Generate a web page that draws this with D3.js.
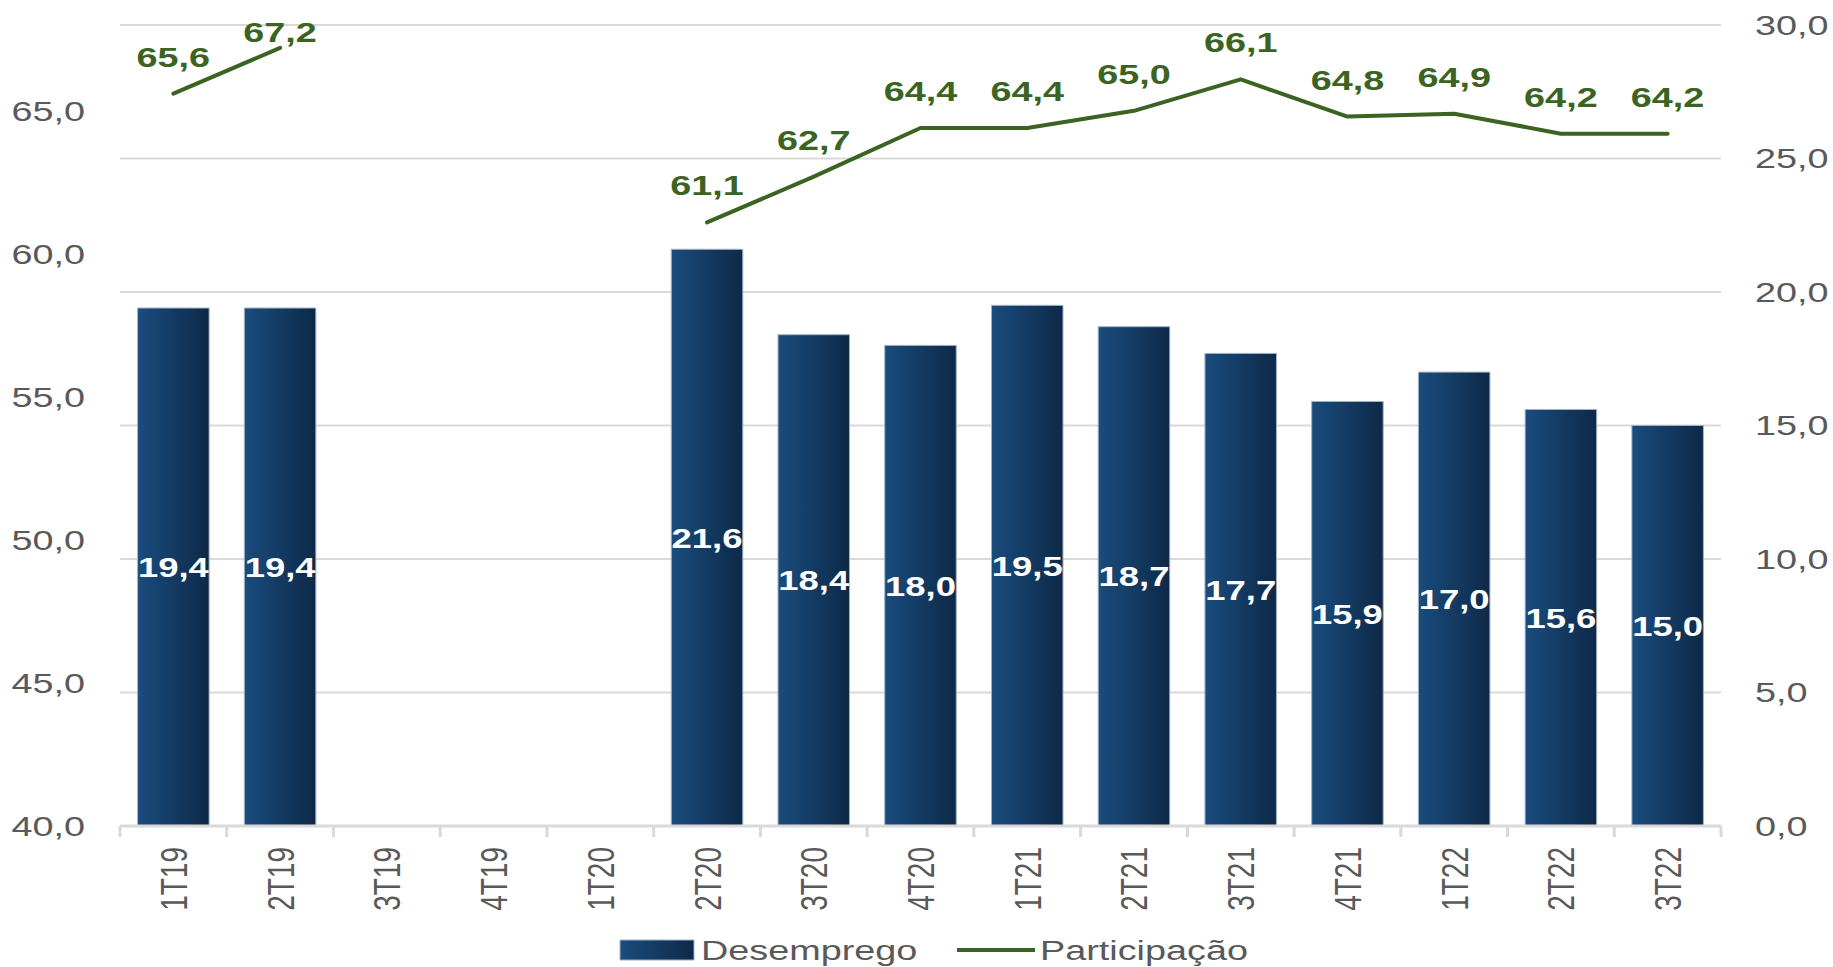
<!DOCTYPE html>
<html>
<head>
<meta charset="utf-8">
<script src="https://cdn.jsdelivr.net/npm/d3@7"></script>
<style>
  html, body { margin: 0; padding: 0; background: #fff; }
  svg { display: block; }
  text { font-family: "Liberation Sans", Arial, sans-serif; }
</style>
</head>
<body>
<div id="chart"></div>
<script>
// dados
const categories = ['1T19', '2T19', '3T19', '4T19', '1T20', '2T20', '3T20', '4T20', '1T21', '2T21', '3T21', '4T21', '1T22', '2T22', '3T22']
const desemprego = [19.4, 19.4, null, null, null, 21.6, 18.4, 18.0, 19.5, 18.7, 17.7, 15.9, 17.0, 15.6, 15.0]
const participacao = [65.6, 67.2, null, null, null, 61.1, 62.7, 64.4, 64.4, 65.0, 66.1, 64.8, 64.9, 64.2, 64.2]
const leftTicks = [40, 45, 50, 55, 60, 65]
const rightTicks = [0, 5, 10, 15, 20, 25, 30]

// the picture is stretched sideways, so draw in a narrower box and let the viewBox stretch it
const stretch = 1.35
const width = 1833
const height = 967
const vw = width / stretch

const margin = { left: 120 / stretch, right: vw - 1721 / stretch, top: 25, bottom: height - 826 }
const fmt = v => d3.format('.1f')(v).replace('.', ',')

const svg = d3.select('#chart')
  .append('svg')
  .attr('width', width)
  .attr('height', height)
  .attr('viewBox', `0 0 ${vw} ${height}`)
  .attr('preserveAspectRatio', 'none')

const defs = svg.append('defs')
const grad = defs.append('linearGradient')
  .attr('id', 'barGrad')
  .attr('x1', '0%').attr('x2', '100%')
  .attr('y1', '0%').attr('y2', '0%')
grad.append('stop').attr('offset', '0%').attr('stop-color', '#1a4c7d')
grad.append('stop').attr('offset', '100%').attr('stop-color', '#0d2948')

const x = d3.scaleBand()
  .domain(categories)
  .range([margin.left, vw - margin.right])
  .paddingInner(0.33)
  .paddingOuter(0.165)

const yR = d3.scaleLinear()
  .domain([0, 30])
  .range([height - margin.bottom, margin.top])

const yL = d3.scaleLinear()
  .domain([40, 68])
  .range([height - margin.bottom, margin.top])

// gridlines (from right axis)
svg.append('g')
  .selectAll('line')
  .data(rightTicks.filter(d => d > 0))
  .enter()
  .append('line')
  .attr('x1', margin.left)
  .attr('x2', vw - margin.right)
  .attr('y1', d => yR(d))
  .attr('y2', d => yR(d))
  .attr('stroke', '#d9d9d9')
  .attr('stroke-width', 2)
  .attr('vector-effect', 'non-scaling-stroke')

// bars
const barData = categories.map((c, i) => ({ cat: c, v: desemprego[i] })).filter(d => d.v !== null)
svg.append('g')
  .selectAll('rect')
  .data(barData)
  .enter()
  .append('rect')
  .attr('x', d => x(d.cat))
  .attr('width', x.bandwidth())
  .attr('y', d => yR(d.v))
  .attr('height', d => yR(0) - yR(d.v))
  .style('fill', 'url(#barGrad)')
  .style('stroke', '#9fb2c6')
  .style('stroke-width', 1)
  .attr('vector-effect', 'non-scaling-stroke')

// bar labels
svg.append('g')
  .selectAll('text')
  .data(barData)
  .enter()
  .append('text')
  .attr('x', d => x(d.cat) + x.bandwidth() / 2)
  .attr('y', d => (yR(d.v) + yR(0)) / 2 + 10)
  .attr('text-anchor', 'middle')
  .style('font-size', '27px')
  .style('font-weight', 'bold')
  .style('fill', '#fff')
  .text(d => fmt(d.v))

// bottom axis line and ticks
const axisY = yR(0)
svg.append('line')
  .attr('x1', margin.left)
  .attr('x2', vw - margin.right)
  .attr('y1', axisY)
  .attr('y2', axisY)
  .attr('stroke', '#d9d9d9')
  .attr('stroke-width', 3)
  .attr('vector-effect', 'non-scaling-stroke')

const step = x.step()
const bounds = d3.range(categories.length + 1).map(i => margin.left + i * step)
svg.append('g')
  .selectAll('line')
  .data(bounds)
  .enter()
  .append('line')
  .attr('x1', d => d)
  .attr('x2', d => d)
  .attr('y1', axisY)
  .attr('y2', axisY + 11)
  .attr('stroke', '#d9d9d9')
  .attr('stroke-width', 3)
  .attr('vector-effect', 'non-scaling-stroke')

// category labels (rotated)
svg.append('g')
  .selectAll('text')
  .data(categories)
  .enter()
  .append('text')
  .attr('transform', d => `translate(${x(d) + x.bandwidth() / 2 + 10},${axisY + 21}) rotate(-90)`)
  .attr('text-anchor', 'end')
  .style('font-size', '28px')
  .style('fill', '#595959')
  .text(d => d)

// left axis labels
svg.append('g')
  .selectAll('text')
  .data(leftTicks)
  .enter()
  .append('text')
  .attr('x', 85 / stretch)
  .attr('y', d => yL(d) + 10)
  .attr('text-anchor', 'end')
  .style('font-size', '28px')
  .style('fill', '#595959')
  .text(d => fmt(d))

// right axis labels
svg.append('g')
  .selectAll('text')
  .data(rightTicks)
  .enter()
  .append('text')
  .attr('x', 1755 / stretch)
  .attr('y', d => yR(d) + 10)
  .attr('text-anchor', 'start')
  .style('font-size', '28px')
  .style('fill', '#595959')
  .text(d => fmt(d))

// participation line
const lineData = categories.map((c, i) => ({ cat: c, v: participacao[i] }))
const line = d3.line()
  .defined(d => d.v !== null)
  .x(d => x(d.cat) + x.bandwidth() / 2)
  .y(d => yL(d.v))

svg.append('path')
  .datum(lineData)
  .attr('d', line)
  .attr('fill', 'none')
  .attr('stroke', '#3b6322')
  .attr('stroke-width', 4)
  .attr('stroke-linecap', 'round')
  .attr('stroke-linejoin', 'round')
  .attr('vector-effect', 'non-scaling-stroke')

svg.append('g')
  .selectAll('text')
  .data(lineData.filter(d => d.v !== null))
  .enter()
  .append('text')
  .attr('x', d => x(d.cat) + x.bandwidth() / 2)
  .attr('y', d => Math.max(yL(d.v) - 27, 42))
  .attr('text-anchor', 'middle')
  .style('font-size', '28px')
  .style('font-weight', 'bold')
  .style('fill', '#3b6322')
  .text(d => fmt(d.v))

// legend
const legend = svg.append('g')
const legY = 950
legend.append('rect')
  .attr('x', 620 / stretch)
  .attr('y', legY - 10)
  .attr('width', 74 / stretch)
  .attr('height', 20)
  .style('fill', 'url(#barGrad)')
  .style('stroke', '#9fb2c6')
  .style('stroke-width', 1)
  .attr('vector-effect', 'non-scaling-stroke')
legend.append('text')
  .attr('x', 701 / stretch)
  .attr('y', legY + 10)
  .style('font-size', '28px')
  .style('fill', '#595959')
  .text('Desemprego')
legend.append('line')
  .attr('x1', 957 / stretch)
  .attr('x2', 1035 / stretch)
  .attr('y1', legY)
  .attr('y2', legY)
  .attr('stroke', '#3b6322')
  .attr('stroke-width', 4)
  .attr('vector-effect', 'non-scaling-stroke')
legend.append('text')
  .attr('x', 1040 / stretch)
  .attr('y', legY + 10)
  .style('font-size', '28px')
  .style('fill', '#595959')
  .text('Participação')
</script>
</body>
</html>
